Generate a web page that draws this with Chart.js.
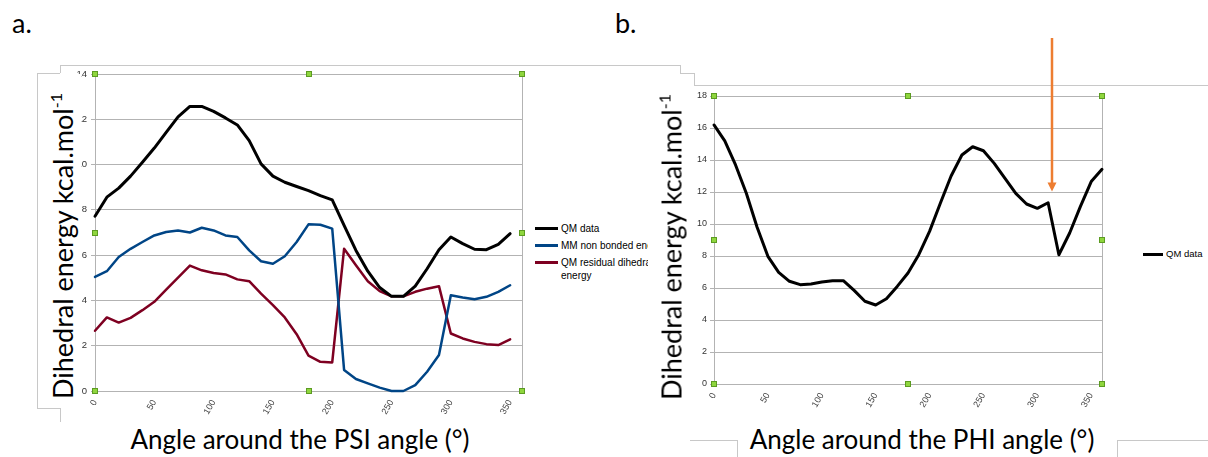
<!DOCTYPE html>
<html>
<head>
<meta charset="utf-8">
<script src="https://cdn.jsdelivr.net/npm/chart.js@4.4.1/dist/chart.umd.min.js"></script>
<style>
  body { margin: 0; width: 1208px; height: 457px; background: #fff; position: relative; overflow: hidden; font-family: 'Liberation Sans', Arial, sans-serif; }
  .abs { position: absolute; }
  .hl { position: absolute; height: 1px; background: #c8c8c8; }
  .vl { position: absolute; width: 1px; background: #c8c8c8; }
  .big { position: absolute; font-family: Lato, 'Open Sans', sans-serif; color: #000; white-space: nowrap; line-height: 1; }
  .ytitle { transform: translate(-50%, -50%) rotate(-90deg); font-size: 27px; }
  .ytitle sup { font-size: 16px; vertical-align: 11px; line-height: 0; }
  .xtitle { transform: translateX(-50%); font-size: 26px; }
  .legend { position: absolute; overflow: hidden; }
  .item { position: relative; display: flex; align-items: flex-start; }
  .swatch { flex: none; display: inline-block; }
  canvas { position: absolute; z-index: 1; }
</style>
</head>
<body>

<div class="big" style="left:12px; top:9px; font-size:27px;">a.</div>
<div class="big" style="left:615px; top:9px; font-size:27px;">b.</div>

<!-- page frame lines -->
<div class="hl" style="left:60px; top:65px; width:620px;"></div>
<div class="vl" style="left:60px; top:65px; height:8px;"></div>
<div class="hl" style="left:37px; top:73px; width:23px;"></div>
<div class="vl" style="left:37px; top:73px; height:335px;"></div>
<div class="hl" style="left:37px; top:408px; width:23px;"></div>
<div class="vl" style="left:60px; top:408px; height:14px;"></div>
<div class="vl" style="left:680px; top:65px; height:8px;"></div>
<div class="hl" style="left:680px; top:73px; width:14px;"></div>
<div class="vl" style="left:694px; top:73px; height:12px;"></div>
<div class="hl" style="left:694px; top:85px; width:514px;"></div>
<div class="hl" style="left:690px; top:440px; width:47px;"></div>
<div class="vl" style="left:737px; top:440px; height:17px;"></div>
<div class="vl" style="left:1117px; top:440px; height:17px;"></div>
<div class="hl" style="left:1117px; top:440px; width:91px;"></div>

<canvas id="psiChart" width="500" height="360" style="left:40px; top:60px;"></canvas>
<canvas id="phiChart" width="440" height="340" style="left:680px; top:80px;"></canvas>

<!-- white title box that sits over the left tick labels -->
<div class="abs" style="left:38px; top:74px; width:43px; height:325px; background:#fff; z-index:2;"></div>
<div class="big ytitle" style="left:62px; top:246px; z-index:3;">Dihedral energy kcal.mol<sup>-1</sup></div>
<div class="big ytitle" style="left:671px; top:247px; z-index:3;">Dihedral energy kcal.mol<sup>-1</sup></div>

<div class="big xtitle" style="left:300px; top:426px;">Angle around the PSI angle (°)</div>
<div class="big xtitle" style="left:922px; top:426px;">Angle around the PHI angle (°)</div>

<div id="psiLegend" class="legend" style="left:533px; top:222px; width:115px; height:70px;"></div>
<div id="phiLegend" class="legend" style="left:1141px; top:248px; width:67px; height:14px;"></div>

<svg class="abs" style="left:1040px; top:30px; z-index:4;" width="24" height="170">
  <line x1="12" y1="8" x2="12" y2="154" stroke="#ed7d31" stroke-width="2.5"/>
  <polygon points="7.5,152.5 16.5,152.5 12,161.5" fill="#ed7d31"/>
</svg>

<script>
// PSI scan (panel a)
const psiAngles = [0, 10, 20, 30, 40, 50, 60, 70, 80, 90, 100, 110, 120, 130, 140, 150, 160, 170,
                   180, 190, 200, 210, 220, 230, 240, 250, 260, 270, 280, 290, 300, 310, 320, 330, 340, 350];
const psiQM  = [7.72, 8.56, 8.96, 9.49, 10.10, 10.73, 11.42, 12.11, 12.57, 12.57, 12.35, 12.06, 11.75, 11.06,
                10.03, 9.49, 9.22, 9.03, 8.85, 8.63, 8.44, 7.31, 6.21, 5.29, 4.57, 4.18, 4.18, 4.63,
                5.40, 6.24, 6.80, 6.51, 6.26, 6.24, 6.48, 6.95];
const psiMM  = [5.04, 5.29, 5.92, 6.28, 6.58, 6.87, 7.02, 7.09, 7.00, 7.21, 7.09, 6.87, 6.80, 6.21,
                5.73, 5.62, 5.95, 6.58, 7.36, 7.34, 7.17, 0.93, 0.53, 0.34, 0.15, 0.00, 0.00, 0.26,
                0.85, 1.59, 4.23, 4.13, 4.05, 4.16, 4.38, 4.67];
const psiRes = [2.66, 3.25, 3.02, 3.23, 3.57, 3.94, 4.48, 5.01, 5.54, 5.33, 5.21, 5.15, 4.93, 4.85,
                4.30, 3.79, 3.25, 2.51, 1.56, 1.29, 1.26, 6.28, 5.55, 4.85, 4.41, 4.18, 4.18, 4.38,
                4.52, 4.63, 2.54, 2.32, 2.17, 2.07, 2.03, 2.28];
const psiNames = ['QM data', 'MM non bonded energy', 'QM residual dihedral energy'];

// PHI scan (panel b)
const phiAngles = [0, 10, 20, 30, 40, 50, 60, 70, 80, 90, 100, 110, 120, 130, 140, 150, 160, 170, 180,
                   190, 200, 210, 220, 230, 240, 250, 260, 270, 280, 290, 300, 310, 320, 330, 340, 350, 360];
const phiQM  = [16.19, 15.19, 13.69, 11.92, 9.80, 7.98, 6.98, 6.42, 6.21, 6.25, 6.38, 6.46, 6.46, 5.85,
                5.17, 4.94, 5.33, 6.10, 6.94, 8.08, 9.54, 11.30, 13.00, 14.31, 14.83, 14.58, 13.79, 12.85,
                11.91, 11.25, 10.98, 11.33, 8.08, 9.44, 11.10, 12.65, 13.42];
const phiNames = ['QM data'];

const psiColors = ['#000000', '#004586', '#7e0021'];
const phiColors = ['#000000'];

const gridGray = '#b3b3b3';

function pts(xs, ys) {
    return xs.map((x, i) => ({ x: x, y: ys[i] }));
}

// right border of the plot + the green selection handles
const framePlugin = {
    id: 'frame',
    beforeDatasetsDraw(chart) {
        const a = chart.chartArea, ctx = chart.ctx;
        ctx.save();
        ctx.strokeStyle = gridGray;
        ctx.lineWidth = 1;
        ctx.beginPath();
        ctx.moveTo(Math.round(a.right) + 0.5, a.top);
        ctx.lineTo(Math.round(a.right) + 0.5, a.bottom);
        ctx.stroke();
        ctx.restore();
    },
    afterDraw(chart) {
        const a = chart.chartArea, ctx = chart.ctx;
        const mx = (a.left + a.right) / 2, my = (a.top + a.bottom) / 2;
        const spots = [[a.left, a.top], [mx, a.top], [a.right, a.top], [a.left, my], [a.right, my],
                       [a.left, a.bottom], [mx, a.bottom], [a.right, a.bottom]];
        ctx.save();
        spots.forEach(([x, y]) => {
            ctx.fillStyle = '#8fd63e';
            ctx.fillRect(Math.round(x) - 3, Math.round(y) - 3, 6, 6);
            ctx.strokeStyle = '#5c9b22';
            ctx.lineWidth = 1;
            ctx.strokeRect(Math.round(x) - 2.5, Math.round(y) - 2.5, 5, 5);
        });
        ctx.restore();
    }
};

function makeChart(id, xs, series, names, colors, opt) {
    const datasets = series.map((ys, i) => ({
        label: names[i],
        data: pts(xs, ys),
        borderColor: colors[i],
        backgroundColor: colors[i],
        borderWidth: i === 0 ? 3 : 2.5,
        pointRadius: 0,
        tension: 0,
        fill: false,
        clip: 4,
        order: i,
        borderJoinStyle: 'round',
        borderCapStyle: 'round'
    }));
    return new Chart(document.getElementById(id).getContext('2d'), {
        type: 'line',
        data: { datasets: datasets },
        options: {
            responsive: false,
            animation: false,
            layout: { padding: { top: opt.padTop, right: opt.padRight, bottom: 0, left: 0 } },
            plugins: { legend: { display: false }, tooltip: { enabled: false } },
            scales: {
                x: {
                    type: 'linear',
                    min: 0, max: 360,
                    grid: { display: false, drawTicks: false },
                    border: { display: true, color: gridGray },
                    ticks: {
                        stepSize: 50,
                        includeBounds: false,
                        minRotation: 60, maxRotation: 60,
                        padding: 7,
                        color: '#444',
                        font: { family: 'Liberation Sans', size: 9 }
                    },
                    afterFit: s => { s.height = opt.xHeight; }
                },
                y: {
                    min: 0, max: opt.yMax,
                    grid: { color: gridGray, lineWidth: 1, tickLength: 4 },
                    border: { display: true, color: gridGray },
                    ticks: {
                        stepSize: 2,
                        padding: opt.tickPad,
                        color: '#333',
                        font: { family: 'Liberation Sans', size: opt.yFont }
                    },
                    afterFit: s => { s.width = opt.yWidth; }
                }
            }
        },
        plugins: [framePlugin]
    });
}

makeChart('psiChart', psiAngles, [psiQM, psiMM, psiRes], psiNames, psiColors,
          { yMax: 14, padTop: 14, padRight: 18, xHeight: 29, yWidth: 55, tickPad: 4, yFont: 9.5 });
makeChart('phiChart', phiAngles, [phiQM], phiNames, phiColors,
          { yMax: 18, padTop: 16, padRight: 18, xHeight: 36, yWidth: 34, tickPad: 3, yFont: 9 });

function buildLegend(id, names, colors, fontSize, lineH, gap, swatchW, textW) {
    const box = document.getElementById(id);
    names.forEach((name, i) => {
        const item = document.createElement('div');
        item.className = 'item';
        item.style.marginBottom = gap + 'px';
        const sw = document.createElement('span');
        sw.className = 'swatch';
        sw.style.width = swatchW + 'px';
        sw.style.height = (i === 0 ? 3 : 2.5) + 'px';
        sw.style.background = colors[i];
        sw.style.marginTop = (lineH / 2 - 1.5) + 'px';
        sw.style.marginRight = '3px';
        sw.style.marginLeft = '2px';
        const tx = document.createElement('span');
        tx.textContent = name;
        tx.style.fontSize = fontSize + 'px';
        tx.style.lineHeight = lineH + 'px';
        tx.style.width = textW + 'px';
        tx.style.flex = 'none';
        tx.style.color = '#000';
        item.appendChild(sw);
        item.appendChild(tx);
        box.appendChild(item);
    });
}

buildLegend('psiLegend', psiNames, psiColors, 10, 13, 4, 23, 115);
buildLegend('phiLegend', phiNames, phiColors, 9.5, 12, 0, 20, 50);
</script>
</body>
</html>
